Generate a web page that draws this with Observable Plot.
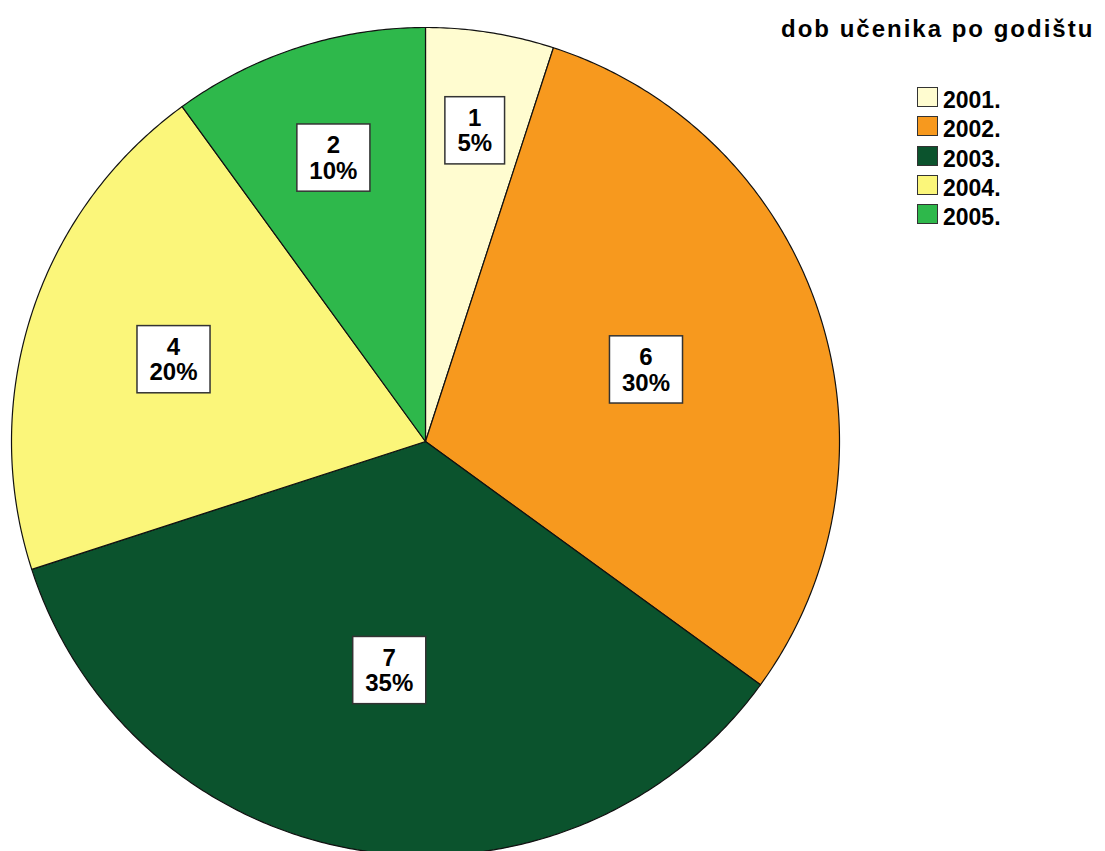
<!DOCTYPE html>
<html><head><meta charset="utf-8">
<script src="https://cdn.jsdelivr.net/npm/d3@7"></script>
<script src="https://cdn.jsdelivr.net/npm/@observablehq/plot@0.6"></script>
<style>
body{margin:0;background:#fff;}
#wrap{position:relative;width:1105px;height:851px;overflow:hidden;font-family:"Liberation Sans",Arial,sans-serif;}
#title{position:absolute;left:781px;top:17px;font-size:24px;font-weight:bold;letter-spacing:2px;white-space:nowrap;line-height:24px;color:#000;}
.sw{position:absolute;left:917px;width:19px;height:18px;border:1.5px solid #333;}
.lt{position:absolute;left:943px;font-size:23px;font-weight:bold;line-height:22px;color:#000;white-space:nowrap;}
</style></head><body><div id="wrap"></div>
<script>
const years = ["2001.","2002.","2003.","2004.","2005."];
const counts = [1, 6, 7, 4, 2];
const colors = ["#FFFCD0","#F7991E","#0B532D","#FBF67A","#2EB84B"];
const titleText = "dob učenika po godištu";

const total = d3.sum(counts);
const arcs = d3.pie().sort(null).value(d => d)(counts);

const pts = [];
arcs.forEach((a, i) => {
  const n = Math.max(2, Math.ceil((a.endAngle - a.startAngle) / (Math.PI / 360)));
  pts.push({year: years[i], x: 0, y: 0});
  for (let k = 0; k <= n; k++) {
    const t = a.startAngle + (a.endAngle - a.startAngle) * k / n;
    pts.push({year: years[i], x: Math.sin(t), y: Math.cos(t)});
  }
  pts.push({year: years[i], x: 0, y: 0});
});

const labels = arcs.map((a, i) => {
  const f = counts[i] / total;
  const r = Math.max(0.56, 0.8 - 0.8 * f);
  const m = (a.startAngle + a.endAngle) / 2;
  return {x: r * Math.sin(m), y: r * Math.cos(m), text: `${counts[i]}\n${Math.round(f * 100)}%`};
});

const R = 414, cx = 425, cy = 441, W = 1105, H = 851;
const plot = Plot.plot({
  width: W, height: H, margin: 0,
  x: {domain: [-cx / R, (W - cx) / R], axis: null},
  y: {domain: [-(H - cy) / R, cy / R], axis: null},
  color: {domain: years, range: colors},
  style: {fontFamily: '"Liberation Sans", Arial, sans-serif', background: "#fff"},
  marks: [
    Plot.line(pts, {x: "x", y: "y", z: "year", fill: "year", stroke: "#111", strokeWidth: 1.2, strokeLinejoin: "round"}),
    Plot.text(labels, {x: "x", y: "y", text: "text", fontSize: 24, fontWeight: "bold", lineHeight: 1.05, fill: "#000"})
  ]
});
const wrap = document.getElementById("wrap");
wrap.appendChild(plot);

plot.querySelectorAll('g[aria-label="text"] text').forEach(t => {
  const b = t.getBBox();
  const r = document.createElementNS("http://www.w3.org/2000/svg", "rect");
  r.setAttribute("x", b.x - 12.5);
  r.setAttribute("y", b.y - 7.5);
  r.setAttribute("width", b.width + 25);
  r.setAttribute("height", b.height + 15);
  if (t.getAttribute("transform")) r.setAttribute("transform", t.getAttribute("transform"));
  r.setAttribute("fill", "#fff");
  r.setAttribute("stroke", "#333");
  r.setAttribute("stroke-width", 1.5);
  t.parentNode.insertBefore(r, t);
});

const title = document.createElement("div");
title.id = "title";
title.textContent = titleText;
wrap.appendChild(title);

years.forEach((y, i) => {
  const top = 87 + i * 29.3;
  const sw = document.createElement("div");
  sw.className = "sw";
  sw.style.top = top + "px";
  sw.style.background = colors[i];
  wrap.appendChild(sw);
  const lt = document.createElement("div");
  lt.className = "lt";
  lt.style.top = (top + 2) + "px";
  lt.textContent = y;
  wrap.appendChild(lt);
});
</script></body></html>
